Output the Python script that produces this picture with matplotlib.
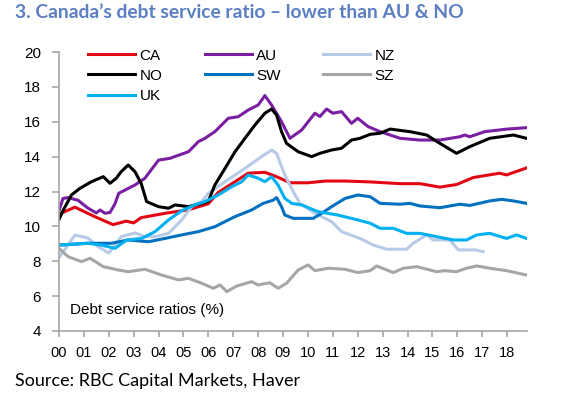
import matplotlib as mpl
mpl.use("agg")
import matplotlib.pyplot as plt

# values (year, debt service ratio %)
ca_x = [2000.0, 2000.64, 2001.45, 2002.17, 2002.7, 2003.0, 2003.3, 2004.26, 2005.2, 2006.0, 2006.4, 2007.0,
        2007.6, 2008.27, 2008.74, 2009.28, 2010.0, 2010.7, 2011.5, 2012.5, 2013.7, 2014.5, 2015.3, 2015.97,
        2016.64, 2017.7, 2017.98, 2018.78]
ca_y = [10.7, 11.1, 10.55, 10.1, 10.3, 10.2, 10.5, 10.75, 10.95, 11.3, 11.95, 12.5,
        13.05, 13.1, 12.85, 12.5, 12.5, 12.6, 12.6, 12.55, 12.45, 12.45, 12.25, 12.4,
        12.8, 13.05, 12.95, 13.35]

au_x = [2000.0, 2000.16, 2000.36, 2000.76, 2001.16, 2001.5, 2001.65, 2001.85, 2002.05, 2002.25, 2002.4,
        2003.05, 2003.45, 2004.0, 2004.45, 2005.2, 2005.6, 2005.86, 2006.26, 2006.8, 2007.2, 2007.6,
        2008.0, 2008.27, 2008.54, 2008.94, 2009.28, 2009.75, 2010.28, 2010.48, 2010.75, 2011.0, 2011.35,
        2011.75, 2012.0, 2012.42, 2012.9, 2013.7, 2014.5, 2015.3, 2016.1, 2016.3, 2016.5, 2017.1,
        2018.0, 2018.78]
au_y = [10.9, 11.6, 11.65, 11.5, 11.05, 10.77, 10.94, 10.75, 10.8, 11.3, 11.9,
        12.37, 12.76, 13.8, 13.9, 14.28, 14.86, 15.05, 15.43, 16.2, 16.29, 16.67,
        16.96, 17.5, 16.96, 16.0, 15.05, 15.53, 16.49, 16.3, 16.73, 16.49, 16.58,
        15.91, 16.2, 15.72, 15.43, 15.05, 14.95, 14.95, 15.14, 15.24, 15.14, 15.43,
        15.58, 15.66]

nz_x = [2000.0, 2000.64, 2001.16, 2001.57, 2002.0, 2002.5, 2003.05, 2003.45, 2003.86, 2004.4, 2004.93,
        2005.33, 2005.73, 2006.0, 2006.67, 2007.47, 2008.14, 2008.54, 2008.74, 2009.07, 2009.41, 2009.68,
        2010.28, 2010.95, 2011.35, 2011.89, 2012.09, 2012.62, 2013.16, 2013.96, 2014.23, 2014.77,
        2015.03, 2015.7, 2016.04, 2016.7, 2017.04]
nz_y = [8.2, 9.5, 9.33, 8.84, 8.47, 9.41, 9.62, 9.41, 9.41, 9.6, 10.37,
        11.13, 11.42, 11.9, 12.56, 13.33, 14.0, 14.38, 14.19, 12.95, 11.99, 11.32,
        10.75, 10.27, 9.7, 9.41, 9.31, 8.93, 8.69, 8.69, 9.03, 9.51,
        9.22, 9.22, 8.65, 8.65, 8.55]

no_x = [2000.0, 2000.16, 2000.5, 2000.84, 2001.3, 2001.78, 2002.05, 2002.3, 2002.5, 2002.78, 2003.05,
        2003.3, 2003.52, 2004.0, 2004.4, 2004.66, 2005.2, 2005.73, 2006.0, 2006.26, 2006.67, 2007.07,
        2007.47, 2007.87, 2008.27, 2008.54, 2008.74, 2008.94, 2009.14, 2009.61, 2010.15, 2010.48,
        2010.95, 2011.35, 2011.75, 2012.09, 2012.5, 2012.9, 2013.3, 2014.1, 2014.77, 2015.3, 2015.97,
        2016.5, 2017.3, 2018.25, 2018.78]
no_y = [10.4, 10.9, 11.8, 12.18, 12.56, 12.85, 12.47, 12.76, 13.14, 13.52, 13.14,
        12.47, 11.42, 11.13, 11.04, 11.23, 11.13, 11.32, 11.45, 12.37, 13.33, 14.28,
        15.05, 15.81, 16.49, 16.73, 16.39, 15.43, 14.76, 14.28, 14.0, 14.19,
        14.38, 14.48, 14.95, 15.05, 15.28, 15.34, 15.58, 15.43, 15.24, 14.76, 14.19,
        14.57, 15.05, 15.24, 15.05]

sw_x = [2000.0, 2001.16, 2002.1, 2002.78, 2003.6, 2004.26, 2004.93, 2005.6, 2006.26, 2007.07, 2007.74,
        2008.2, 2008.6, 2008.74, 2008.94, 2009.07, 2009.41, 2010.21, 2010.55, 2010.95, 2011.49, 2012.0,
        2012.5, 2012.9, 2013.7, 2014.1, 2014.5, 2015.3, 2016.1, 2016.5, 2017.3, 2017.78, 2018.25, 2018.78]
sw_y = [8.93, 9.03, 9.03, 9.22, 9.12, 9.31, 9.51, 9.7, 9.98, 10.56, 10.94,
        11.32, 11.5, 11.65, 11.13, 10.65, 10.46, 10.46, 10.75, 11.13, 11.6, 11.8,
        11.7, 11.32, 11.27, 11.32, 11.17, 11.07, 11.27, 11.2, 11.46, 11.55, 11.46, 11.32]

sz_x = [2000.0, 2000.37, 2000.9, 2001.25, 2001.78, 2002.38, 2002.78, 2003.45, 2004.12, 2004.8, 2005.2,
        2005.73, 2006.2, 2006.47, 2006.74, 2007.14, 2007.74, 2008.0, 2008.47, 2008.8, 2009.14, 2009.61,
        2010.01, 2010.28, 2010.82, 2011.49, 2012.0, 2012.5, 2012.76, 2013.43, 2013.83, 2014.37, 2015.17,
        2015.5, 2015.97, 2016.37, 2016.78, 2017.3, 2017.98, 2018.78]
sz_y = [8.74, 8.26, 7.98, 8.17, 7.69, 7.5, 7.4, 7.54, 7.21, 6.93, 7.02,
        6.74, 6.45, 6.64, 6.26, 6.58, 6.83, 6.64, 6.77, 6.45, 6.74, 7.5,
        7.79, 7.46, 7.6, 7.54, 7.35, 7.46, 7.73, 7.35, 7.6, 7.69, 7.4,
        7.46, 7.4, 7.6, 7.73, 7.6, 7.46, 7.21]

uk_x = [2000.0, 2001.16, 2001.7, 2002.25, 2002.72, 2003.32, 2003.86, 2004.4, 2004.93, 2005.46, 2005.86,
        2006.4, 2006.94, 2007.34, 2007.6, 2008.0, 2008.27, 2008.54, 2008.8, 2009.07, 2009.35, 2009.75,
        2010.41, 2011.2, 2012.0, 2012.5, 2012.9, 2013.43, 2013.96, 2014.5, 2015.17, 2015.84, 2016.37,
        2016.78, 2017.3, 2017.98, 2018.38, 2018.78]
uk_y = [8.93, 9.03, 8.93, 8.74, 9.22, 9.31, 9.7, 10.37, 10.9, 11.23, 11.42,
        11.8, 12.28, 12.56, 12.95, 12.76, 12.56, 12.85, 12.37, 11.61, 11.32, 11.23,
        10.84, 10.65, 10.37, 10.18, 9.89, 9.89, 9.6, 9.6, 9.41, 9.22, 9.22,
        9.51, 9.6, 9.31, 9.51, 9.31]

years = list(range(2000, 2019))
year_labels = ['%02d' % (y - 2000) for y in years]

plt.rcParams['font.family'] = ['Liberation Sans', 'DejaVu Sans']

fig = plt.figure(figsize=(5.7, 3.95), dpi=100)
ax = fig.add_axes([59/570, 64/395, 468/570, 279/395])

lw = 2.2
l_ca, = ax.plot(ca_x, ca_y, color='#e30613', lw=lw, label='CA')
l_au, = ax.plot(au_x, au_y, color='#7a1fa2', lw=lw, label='AU')
l_nz, = ax.plot(nz_x, nz_y, color='#b7cbe8', lw=lw, label='NZ')
l_no, = ax.plot(no_x, no_y, color='#000000', lw=lw, label='NO')
l_sw, = ax.plot(sw_x, sw_y, color='#0070c0', lw=lw, label='SW')
l_sz, = ax.plot(sz_x, sz_y, color='#a6a6a6', lw=lw, label='SZ')
l_uk, = ax.plot(uk_x, uk_y, color='#00b0f0', lw=lw, label='UK')

ax.set_xlim(2000, 2018.8)
ax.set_ylim(4, 20)
ax.set_yticks(range(4, 21, 2))
ax.set_xticks(years)
ax.set_xticklabels(year_labels)

for s in ['top', 'right']:
    ax.spines[s].set_visible(False)
for s in ['left', 'bottom']:
    ax.spines[s].set_color('#a6a6a6')
    ax.spines[s].set_linewidth(1.2)
ax.tick_params(axis='y', direction='out', length=5, width=1.2, color='#a6a6a6', pad=8, labelsize=11)
ax.tick_params(axis='x', direction='out', length=4, width=1.2, color='#a6a6a6', pad=7, labelsize=10.5)

ax.legend([l_ca, l_no, l_uk, l_au, l_sw, l_nz, l_sz], ['CA', 'NO', 'UK', 'AU', 'SW', 'NZ', 'SZ'],
          loc='upper left', bbox_to_anchor=((88-59)/468, 1.012), ncol=3, frameon=False,
          fontsize=11, handlelength=3.1, handletextpad=0.28, columnspacing=2.75,
          labelspacing=0.4, borderpad=0, borderaxespad=0)

ax.text((70-59)/468, (331-310)/279, 'Debt service ratios (%)', transform=ax.transAxes,
        fontsize=11, va='center', ha='left')

fig.text(15/570, 1 - 13/395, '3. Canada\u2019s debt service ratio \u2013 lower than AU & NO',
         fontsize=13.9, fontweight='bold', family='Lato', color='#5b7fc2', va='center', ha='left')
fig.text(15/570, 1 - 381/395, 'Source: RBC Capital Markets, Haver', fontsize=13, family='Lato',
         va='center', ha='left')

fig.savefig('out.png', dpi=100)
